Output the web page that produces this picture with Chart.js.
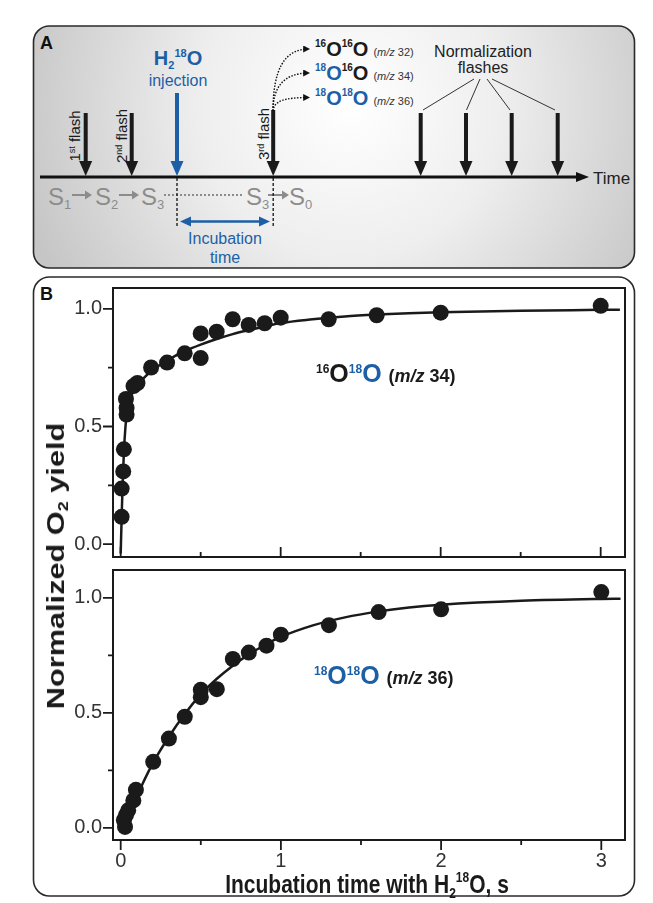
<!DOCTYPE html>
<html>
<head>
<meta charset="utf-8">
<script src="https://cdn.jsdelivr.net/npm/chart.js@4.4.1/dist/chart.umd.min.js"></script>
<style>
  html, body { margin:0; padding:0; background:#fff; }
  body { width:653px; height:903px; position:relative; overflow:hidden; font-family:'Liberation Sans', Arial, sans-serif; }
  .abs { position:absolute; }
  .sup { position:relative; font-size:12px; top:-0.75em; }
  .sub { position:relative; font-size:14px; top:0.3em; }
  .blue { color:#1d5fa6; }
</style>
</head>
<body>
<script>
// ---------- DATA ----------
// Panel B, upper plot: 16O18O (m/z 34)
const X34 = [0.006, 0.006, 0.016, 0.02, 0.033, 0.037, 0.037, 0.08, 0.105, 0.19, 0.29, 0.40, 0.50, 0.50, 0.60, 0.70, 0.80, 0.90, 1.00, 1.30, 1.60, 2.00, 3.00];
const Y34 = [0.116, 0.236, 0.309, 0.403, 0.617, 0.579, 0.551, 0.672, 0.685, 0.751, 0.772, 0.811, 0.791, 0.896, 0.903, 0.956, 0.932, 0.939, 0.963, 0.956, 0.973, 0.984, 1.013];
const FIT34_X = [0.0, 0.004, 0.008, 0.012, 0.02, 0.03, 0.04, 0.05, 0.06, 0.08, 0.1, 0.15, 0.2, 0.3, 0.4, 0.5, 0.6, 0.7, 0.8, 0.9, 1.0, 1.2, 1.4, 1.6, 1.8, 2.0, 2.5, 3.0, 3.12];
const FIT34_Y = [-0.04, 0.06, 0.16, 0.25, 0.39, 0.50, 0.565, 0.60, 0.62, 0.65, 0.67, 0.71, 0.74, 0.785, 0.82, 0.848, 0.872, 0.893, 0.91, 0.925, 0.94, 0.956, 0.968, 0.976, 0.982, 0.986, 0.992, 0.996, 0.997];
// Panel B, lower plot: 18O18O (m/z 36)
const X36 = [0.027, 0.02, 0.033, 0.047, 0.079, 0.095, 0.203, 0.301, 0.40, 0.50, 0.50, 0.60, 0.70, 0.80, 0.91, 1.00, 1.30, 1.61, 2.00, 3.00];
const Y36 = [0.004, 0.033, 0.055, 0.076, 0.119, 0.165, 0.287, 0.388, 0.483, 0.568, 0.600, 0.603, 0.734, 0.762, 0.792, 0.840, 0.881, 0.938, 0.950, 1.025];
const FIT36_X = [0.02, 0.05, 0.1, 0.2, 0.3, 0.4, 0.5, 0.6, 0.7, 0.8, 0.9, 1.0, 1.2, 1.4, 1.6, 1.8, 2.0, 2.5, 3.0, 3.12];
const FIT36_Y = [0.0, 0.05, 0.135, 0.28, 0.395, 0.495, 0.58, 0.648, 0.705, 0.754, 0.795, 0.83, 0.88, 0.915, 0.94, 0.958, 0.97, 0.987, 0.995, 0.996];
// Axis ticks
const Y_TICKS = [0, 0.25, 0.5, 0.75, 1.0];
const Y_LABELED = [0, 0.5, 1.0];
const X_TICKS = [0, 0.5, 1, 1.5, 2, 2.5, 3];
const X_LABELED = [0, 1, 2, 3];
</script>

<svg class="abs" style="left:0;top:0" width="653" height="903" xmlns="http://www.w3.org/2000/svg">
  <defs>
    <radialGradient id="bgA" gradientUnits="userSpaceOnUse" cx="350" cy="105" r="340">
      <stop offset="0" stop-color="#ffffff"/>
      <stop offset="0.45" stop-color="#eeeeee"/>
      <stop offset="1" stop-color="#c6c6c6"/>
    </radialGradient>
    <marker id="dotHead" viewBox="0 0 6 6" refX="5" refY="3" markerWidth="5" markerHeight="5" orient="auto">
      <path d="M0,0 L6,3 L0,6 z" fill="#111"/>
    </marker>
  </defs>
  <!-- Panel A -->
  <rect x="33.5" y="26" width="601" height="242" rx="16" fill="url(#bgA)" stroke="#2a2a2a" stroke-width="1.6"/>
  <text x="40" y="49" font-size="18" font-weight="bold" fill="#111">A</text>

  <!-- time axis -->
  <line x1="40" y1="177" x2="579" y2="177" stroke="#111" stroke-width="3"/>
  <polygon points="576,172 589,177 576,182" fill="#111"/>
  <text x="593" y="184" font-size="17" fill="#222">Time</text>

  <!-- flash arrows -->
  <g fill="#1a1a1a">
    <rect x="83.7" y="113" width="4" height="50"/><polygon points="79.2,161 92.2,161 85.7,176"/>
    <rect x="129.7" y="113" width="4" height="50"/><polygon points="125.2,161 138.2,161 131.7,176"/>
    <rect x="271.2" y="110" width="4" height="53"/><polygon points="266.7,161 279.7,161 273.2,176"/>
    <rect x="418.7" y="113" width="4" height="50"/><polygon points="414.2,161 427.2,161 420.7,176"/>
    <rect x="464" y="113" width="4" height="50"/><polygon points="459.5,161 472.5,161 466,176"/>
    <rect x="509.7" y="113" width="4" height="50"/><polygon points="505.2,161 518.2,161 511.7,176"/>
    <rect x="555.7" y="113" width="4" height="50"/><polygon points="551.2,161 564.2,161 557.7,176"/>
  </g>
  <!-- injection arrow -->
  <g fill="#1d5fa6">
    <rect x="175" y="93" width="4" height="70"/><polygon points="170.5,161 183.5,161 177,176"/>
  </g>

  <!-- rotated flash labels -->
  <g font-size="15" fill="#1a1a1a" text-anchor="middle">
    <text transform="translate(80,136) rotate(-90)">1<tspan font-size="9" dy="-5">st</tspan><tspan dy="5"> flash</tspan></text>
    <text transform="translate(126.5,136) rotate(-90)">2<tspan font-size="9" dy="-5">nd</tspan><tspan dy="5"> flash</tspan></text>
    <text transform="translate(269,134) rotate(-90)">3<tspan font-size="9" dy="-5">rd</tspan><tspan dy="5"> flash</tspan></text>
  </g>

  <!-- injection label -->
  <text x="178" y="65" font-size="20" font-weight="bold" fill="#1d5fa6" text-anchor="middle">H<tspan font-size="11" dy="4">2</tspan><tspan font-size="11" dy="-12">18</tspan><tspan dy="8">O</tspan></text>
  <text x="178" y="86" font-size="16" fill="#1d5fa6" text-anchor="middle">injection</text>

  <!-- S-state sequence -->
  <g fill="#8c8c8c" font-size="24">
    <text x="48" y="205">S<tspan font-size="13" dy="4">1</tspan></text>
    <text x="95" y="205">S<tspan font-size="13" dy="4">2</tspan></text>
    <text x="141" y="205">S<tspan font-size="13" dy="4">3</tspan></text>
    <text x="246" y="205">S<tspan font-size="13" dy="4">3</tspan></text>
    <text x="289" y="205">S<tspan font-size="13" dy="4">0</tspan></text>
  </g>
  <g stroke="#8c8c8c" stroke-width="2">
    <line x1="72" y1="195" x2="86" y2="195"/>
    <line x1="119" y1="195" x2="133" y2="195"/>
    <line x1="268" y1="195" x2="283" y2="195"/>
    <line x1="164" y1="195" x2="243" y2="195" stroke-dasharray="2 2"/>
  </g>
  <g fill="#8c8c8c">
    <polygon points="85,190.5 92,195 85,199.5"/>
    <polygon points="132,190.5 139,195 132,199.5"/>
    <polygon points="282,190.5 289,195 282,199.5"/>
  </g>

  <!-- incubation interval -->
  <g stroke="#111" stroke-width="1.3" stroke-dasharray="3 2">
    <line x1="177" y1="178" x2="177" y2="226"/>
    <line x1="273.2" y1="178" x2="273.2" y2="226"/>
  </g>
  <line x1="187" y1="221.5" x2="263" y2="221.5" stroke="#1d5fa6" stroke-width="2.5"/>
  <polygon points="180,221.5 191,216.5 191,226.5" fill="#1d5fa6"/>
  <polygon points="270,221.5 259,216.5 259,226.5" fill="#1d5fa6"/>
  <text x="225" y="244" font-size="16" fill="#1d5fa6" text-anchor="middle">Incubation</text>
  <text x="225" y="263" font-size="16" fill="#1d5fa6" text-anchor="middle">time</text>

  <!-- product labels -->
  <g fill="none" stroke="#111" stroke-width="1.4" stroke-dasharray="1.5 1.5">
    <path d="M273,111 C273,70 284,49 309,49" marker-end="url(#dotHead)"/>
    <path d="M273,111 C273,88 283,73 309,73" marker-end="url(#dotHead)"/>
    <path d="M273,111 C274,101 284,97.5 309,97.5" marker-end="url(#dotHead)"/>
  </g>
  <g font-weight="bold" font-size="20">
    <text x="315" y="56" fill="#1a1a1a"><tspan font-size="10" dy="-9">16</tspan><tspan dy="9">O</tspan><tspan font-size="10" dy="-9">16</tspan><tspan dy="9">O</tspan><tspan font-size="11" font-weight="normal" fill="#333" dx="5">(<tspan font-style="italic">m/z</tspan> 32)</tspan></text>
    <text x="315" y="80"><tspan font-size="10" dy="-9" fill="#1d5fa6">18</tspan><tspan dy="9" fill="#1d5fa6">O</tspan><tspan font-size="10" dy="-9" fill="#1a1a1a">16</tspan><tspan dy="9" fill="#1a1a1a">O</tspan><tspan font-size="11" font-weight="normal" fill="#333" dx="5">(<tspan font-style="italic">m/z</tspan> 34)</tspan></text>
    <text x="315" y="105" fill="#1d5fa6"><tspan font-size="10" dy="-9">18</tspan><tspan dy="9">O</tspan><tspan font-size="10" dy="-9">18</tspan><tspan dy="9">O</tspan><tspan font-size="11" font-weight="normal" fill="#333" dx="5">(<tspan font-style="italic">m/z</tspan> 36)</tspan></text>
  </g>

  <!-- normalization flashes -->
  <text x="483" y="57" font-size="16" fill="#222" text-anchor="middle">Normalization</text>
  <text x="483" y="73" font-size="16" fill="#222" text-anchor="middle">flashes</text>
  <g stroke="#333" stroke-width="1">
    <line x1="474" y1="79" x2="423" y2="110"/>
    <line x1="480" y1="79" x2="466.5" y2="110"/>
    <line x1="487" y1="79" x2="510" y2="110"/>
    <line x1="492" y1="79" x2="555" y2="110"/>
  </g>

  <!-- Panel B frame -->
  <rect x="33.5" y="277" width="601" height="619" rx="16" fill="#ffffff" stroke="#2a2a2a" stroke-width="1.6"/>
  <text x="40" y="300" font-size="18" font-weight="bold" fill="#111">B</text>
</svg>

<div class="abs" style="left:33px;top:280px;"><canvas id="c34" width="600" height="285"></canvas></div>
<div class="abs" style="left:33px;top:562px;"><canvas id="c36" width="600" height="330"></canvas></div>

<!-- Panel B text overlays -->
<div class="abs" style="left:56px;top:566px;transform:translate(-50%,-50%) rotate(-90deg) scaleX(1.28);white-space:nowrap;font-weight:bold;font-size:24px;line-height:1;color:#1a1a1a;">Normalized O<span class="sub" style="font-size:14px">2</span> yield</div>
<div class="abs" style="left:367px;top:884px;transform:translate(-50%,-50%) scaleY(1.2);white-space:nowrap;font-weight:bold;font-size:21px;line-height:1;color:#1a1a1a;">Incubation time with H<span class="sub" style="font-size:12px">2</span><span class="sup" style="font-size:12px">18</span>O, s</div>

<div class="abs" style="left:316px;top:373px;transform:translateY(-50%);white-space:nowrap;font-weight:bold;font-size:25px;line-height:1;color:#1a1a1a;"><span class="sup">16</span>O<span class="sup blue">18</span><span class="blue">O</span> <span style="font-size:18px;">(<i>m/z</i> 34)</span></div>
<div class="abs" style="left:314px;top:675px;transform:translateY(-50%);white-space:nowrap;font-weight:bold;font-size:25px;line-height:1;color:#1a1a1a;"><span class="sup blue">18</span><span class="blue">O</span><span class="sup blue">18</span><span class="blue">O</span> <span style="font-size:18px;">(<i>m/z</i> 36)</span></div>

<script>
const frameTicks = {
  id: 'frameTicks',
  afterDatasetsDraw(chart, args, opts) {
    const {ctx, chartArea: a, scales: {x, y}} = chart;
    ctx.save();
    ctx.strokeStyle = '#1a1a1a';
    ctx.lineWidth = 2;
    ctx.strokeRect(a.left, a.top, a.right - a.left, a.bottom - a.top);
    ctx.lineWidth = 1.8;
    ctx.beginPath();
    y.ticks.forEach(t => {
      const py = y.getPixelForValue(t.value);
      const L = Y_LABELED.includes(t.value) ? 10 : 5;
      ctx.moveTo(a.left - L, py); ctx.lineTo(a.left, py);
    });
    const dir = opts.inward ? -1 : 1;
    x.ticks.forEach(t => {
      const px = x.getPixelForValue(t.value);
      const L = X_LABELED.includes(t.value) ? 10 : 5;
      ctx.moveTo(px, a.bottom); ctx.lineTo(px, a.bottom + dir * L);
    });
    ctx.stroke();
    ctx.restore();
  }
};

function pts(xs, ys) { return xs.map((v, i) => ({x: v, y: ys[i]})); }

function makeChart(id, xs, ys, fx, fy, cfg) {
  return new Chart(document.getElementById(id), {
    type: 'scatter',
    data: {
      datasets: [
        { data: pts(xs, ys), backgroundColor: '#1a1a1a', borderWidth: 0, pointRadius: 8, pointHoverRadius: 8, showLine: false },
        { data: pts(fx, fy), showLine: true, borderColor: '#1a1a1a', borderWidth: 2.5, pointRadius: 0, fill: false, cubicInterpolationMode: 'monotone' }
      ]
    },
    options: {
      responsive: false, animation: false, devicePixelRatio: 1,
      layout: { padding: cfg.padding },
      plugins: { legend: { display: false }, tooltip: { enabled: false }, frameTicks: { inward: cfg.inward } },
      scales: {
        x: {
          type: 'linear', min: cfg.xmin, max: cfg.xmax,
          grid: { display: false, drawTicks: false, tickLength: 0 }, border: { display: false },
          afterBuildTicks: s => { s.ticks = X_TICKS.map(v => ({value: v})); },
          afterFit: s => { s.height = cfg.xh; s.paddingLeft = 0; s.paddingRight = 0; },
          ticks: {
            display: cfg.xlabels, padding: 9, maxRotation: 0, autoSkip: false,
            color: '#333', font: { family: "'Liberation Sans', Arial, sans-serif", size: 20 },
            callback: v => X_LABELED.includes(v) ? String(v) : ''
          }
        },
        y: {
          type: 'linear', min: cfg.ymin, max: cfg.ymax,
          grid: { display: false, drawTicks: false, tickLength: 0 }, border: { display: false },
          afterBuildTicks: s => { s.ticks = Y_TICKS.map(v => ({value: v})); },
          afterFit: s => { s.width = 80; s.paddingTop = 0; s.paddingBottom = 0; },
          ticks: {
            padding: 11, autoSkip: false,
            color: '#333', font: { family: "'Liberation Sans', Arial, sans-serif", size: 20 },
            callback: v => Y_LABELED.includes(v) ? v.toFixed(1) : ''
          }
        }
      }
    },
    plugins: [frameTicks]
  });
}

makeChart('c34', X34, Y34, FIT34_X, FIT34_Y, {
  padding: { top: 7, right: 8, bottom: 8, left: 0 }, inward: true, xlabels: false, xh: 0,
  xmin: -0.048, xmax: 3.152, ymin: -0.055, ymax: 1.089
});
makeChart('c36', X36, Y36, FIT36_X, FIT36_Y, {
  padding: { top: 6, right: 7, bottom: 0, left: 0 }, inward: false, xlabels: true, xh: 52,
  xmin: -0.048, xmax: 3.148, ymin: -0.053, ymax: 1.121
});
</script>
</body>
</html>
